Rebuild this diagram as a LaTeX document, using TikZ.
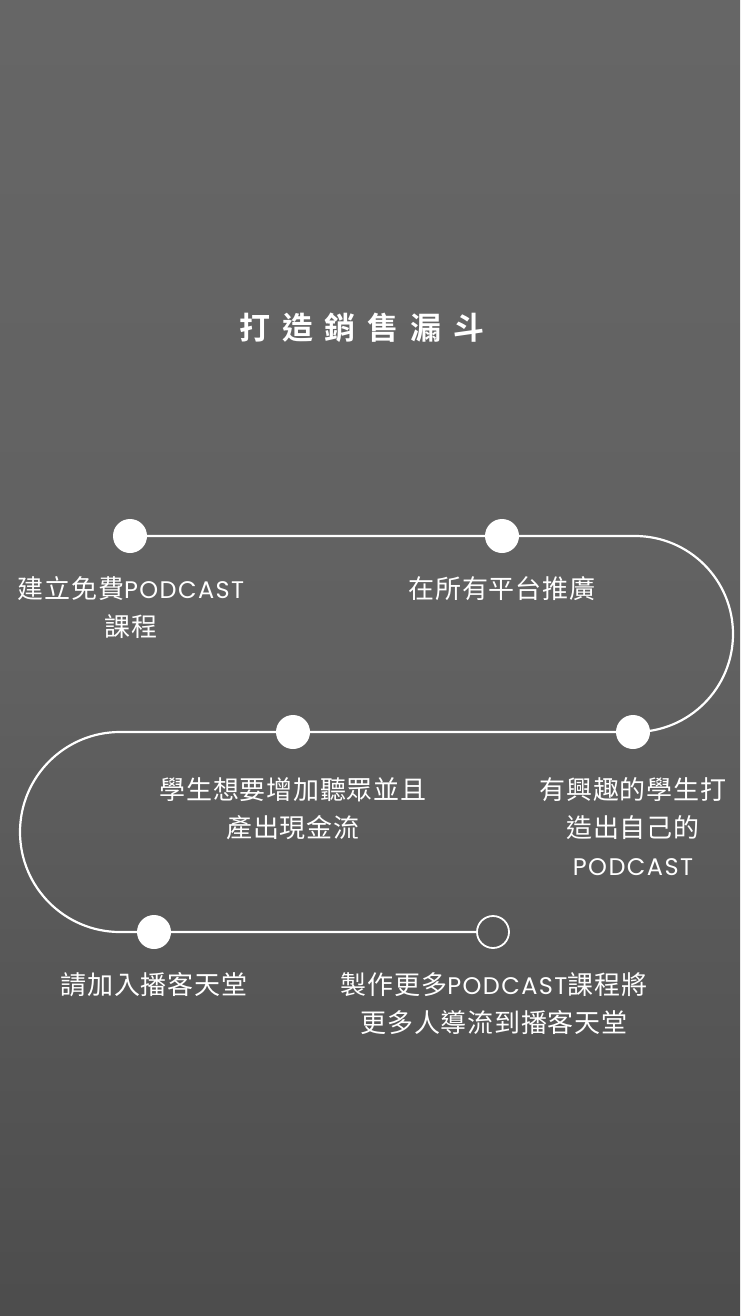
\documentclass[tikz,border=0pt]{standalone}
\usepackage{fontspec}
\newfontfamily\cjk{Noto Sans CJK TC}[LetterSpace=3]
\newfontfamily\lat{Poppins}[LetterSpace=6]
\newfontfamily\cjkb{Noto Sans CJK TC Bold}
\newcommand{\pod}{{\lat\fontsize{24}{38}\selectfont PODCAST}}
\begin{document}
\begin{tikzpicture}[x=1pt,y=-1pt,
  lbl/.style={text=white,font=\cjk\fontsize{26}{38}\selectfont,align=center,inner sep=0},
  dot/.style={circle,fill=white,minimum size=34pt,inner sep=0},
  hdot/.style={circle,draw=white,line width=1.8pt,fill=black!66!white,minimum size=32pt,inner sep=0},
  road/.style={draw=white,line width=2.2pt}]
\useasboundingbox (0,0) rectangle (740,1316);
\shade[top color=black!60!white,bottom color=black!70!white,middle color=black!62!white] (0,0) rectangle (740,1316);
\node[text=white,font=\cjkb\fontsize{31}{36}\selectfont] (title) at (362,328) {打\hspace{12pt}造\hspace{12pt}銷\hspace{12pt}售\hspace{12pt}漏\hspace{12pt}斗};
\draw[road] (130,536) -- (635,536) arc[start angle=-90,end angle=90,radius=98] -- (120,732) arc[start angle=270,end angle=90,radius=100] -- (493,932);
\node[dot] (d1) at (130,536) {};
\node[dot] (d2) at (502,536) {};
\node[dot] (d3) at (633,732) {};
\node[dot] (d4) at (293,732) {};
\node[dot] (d5) at (154,932) {};
\node[hdot] (d6) at (493,932) {};
\node[lbl,anchor=north] (t1) at (131,576) {建立免費\pod\\課程};
\node[lbl,anchor=north] (t2) at (502,576) {在所有平台推廣};
\node[lbl,anchor=north] (t4) at (293,777) {學生想要增加聽眾並且\\產出現金流};
\node[lbl,anchor=north] (t3) at (633,777) {有興趣的學生打\\造出自己的\\\pod};
\node[lbl,anchor=north] (t5) at (154,972) {請加入播客天堂};
\node[lbl,anchor=north] (t6) at (494,972) {製作更多\pod 課程將\\更多人導流到播客天堂};
\end{tikzpicture}
\end{document}
